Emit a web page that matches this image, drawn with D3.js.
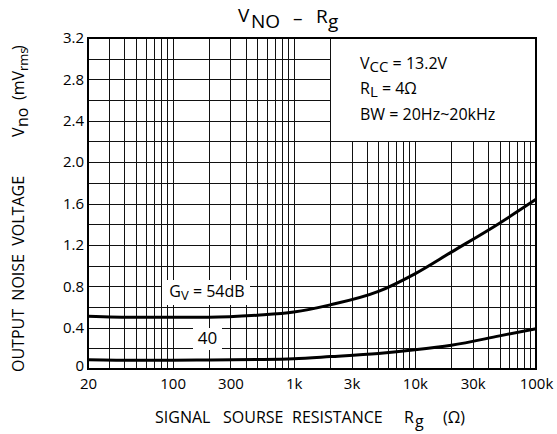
<!DOCTYPE html>
<html><head><meta charset="utf-8">
<script src="https://cdn.jsdelivr.net/npm/d3@7"></script>
<style>
body{margin:0;background:#fff}
svg{display:block}
text{font-family:"Open Sans","Noto Sans",sans-serif;fill:#000;white-space:pre}
</style>
</head><body>
<svg id="c" width="557" height="434"></svg>
<script>
// ---- data ----
const resistance = [20, 50, 100, 200, 500, 1000, 2000, 5000, 10000, 20000, 50000, 100000];
const gv54 = [0.51, 0.50, 0.50, 0.50, 0.52, 0.55, 0.62, 0.75, 0.92, 1.13, 1.41, 1.64];
const gv40 = [0.09, 0.085, 0.085, 0.088, 0.092, 0.10, 0.12, 0.15, 0.185, 0.23, 0.32, 0.39];
const xTickValues = [20, 100, 300, 1000, 3000, 10000, 30000, 100000];
const xTickLabels = ["20", "100", "300", "1k", "3k", "10k", "30k", "100k"];
const yTickValues = [0, 0.4, 0.8, 1.2, 1.6, 2.0, 2.4, 2.8, 3.2];
const yTickLabels = ["0", "0.4", "0.8", "1.2", "1.6", "2.0", "2.4", "2.8", "3.2"];
const yGridValues = d3.range(0, 17).map(i => +(i * 0.2).toFixed(1));
const boxCorner = {r: 2000, v: 2.2};

// ---- layout ----
const svg = d3.select("#c");
const L = 88, R = 536, T = 38, B = 369;
const x = d3.scaleLog().domain([20, 100000]).range([L, R]);
const y = d3.scaleLinear().domain([0, 3.2]).range([B, T]);

// vertical grid values
const xGridValues = [];
for (let d = 10; d <= 100000; d *= 10) {
  for (let m = 1; m <= 9; m++) {
    const v = d * m;
    if (v >= 20 && v <= 100000) xGridValues.push(v);
  }
}

const grid = svg.append("g").attr("stroke", "#111").attr("stroke-width", 1).attr("shape-rendering", "crispEdges");
grid.selectAll("line.v").data(xGridValues).join("line")
  .attr("x1", d => Math.round(x(d)) + 0.5).attr("x2", d => Math.round(x(d)) + 0.5)
  .attr("y1", d => d > boxCorner.r ? y(boxCorner.v) : T)
  .attr("y2", B);
grid.selectAll("line.h").data(yGridValues).join("line")
  .attr("y1", d => Math.round(y(d)) + 0.5).attr("y2", d => Math.round(y(d)) + 0.5)
  .attr("x1", L)
  .attr("x2", d => d > boxCorner.v ? x(boxCorner.r) : R);

// frame
svg.append("rect").attr("x", L).attr("y", T).attr("width", R - L).attr("height", B - T)
  .attr("fill", "none").attr("stroke", "#000").attr("stroke-width", 2);

// label backgrounds
svg.append("rect").attr("x", 162).attr("y", 280).attr("width", 88).attr("height", 25).attr("fill", "#fff");
svg.append("rect").attr("x", 193).attr("y", 328).attr("width", 29).attr("height", 22).attr("fill", "#fff");

// curves
const line = d3.line().x((d, i) => x(resistance[i])).y(d => y(d)).curve(d3.curveMonotoneX);
[gv54, gv40].forEach(s => {
  svg.append("path").attr("d", line(s)).attr("fill", "none").attr("stroke", "#000").attr("stroke-width", 3);
});

// y tick labels
const yAxis = d3.axisLeft(y).tickValues(yTickValues).tickSize(0).tickPadding(4)
  .tickFormat((d, i) => yTickLabels[i]);
const gy = svg.append("g").attr("transform", `translate(${L},0)`).call(yAxis);
gy.select(".domain").remove();
gy.selectAll("text").attr("font-size", 15).attr("font-family", "'Open Sans',sans-serif").attr("fill", "#000");
gy.selectAll("text").filter(d => d === 0).attr("y", -3);

// x tick labels
const xAxis = d3.axisBottom(x).tickValues(xTickValues).tickSize(0).tickPadding(9)
  .tickFormat((d, i) => xTickLabels[i]);
const gx = svg.append("g").attr("transform", `translate(0,${B})`).call(xAxis);
gx.select(".domain").remove();
gx.selectAll("text").attr("font-size", 15).attr("font-family", "'Open Sans',sans-serif").attr("fill", "#000");

// curve labels
const t1 = svg.append("text").attr("x", 207).attr("y", 297).attr("text-anchor", "middle").attr("font-size", 16);
t1.append("tspan").text("G");
t1.append("tspan").attr("font-size", 13).attr("dy", 3).text("V");
t1.append("tspan").attr("dy", -3).text(" = 54dB");
svg.append("text").attr("x", 207.5).attr("y", 344).attr("text-anchor", "middle").attr("font-size", 17).text("40");

// title
const title = svg.append("g").attr("font-size", 19);
title.append("text").attr("x", 238).attr("y", 22).text("V");
title.append("text").attr("x", 251).attr("y", 28).text("NO");
title.append("text").attr("x", 293).attr("y", 25).text("–");
title.append("text").attr("x", 316).attr("y", 23).text("R");
title.append("text").attr("x", 328).attr("y", 28).text("g");

// condition box text
const c1 = svg.append("text").attr("x", 360).attr("y", 69).attr("font-size", 16);
c1.append("tspan").text("V");
c1.append("tspan").attr("dy", 3).attr("font-size", 15).text("CC");
c1.append("tspan").attr("dy", -3).text(" = 13.2V");
const c2 = svg.append("text").attr("x", 360).attr("y", 94).attr("font-size", 16);
c2.append("tspan").text("R");
c2.append("tspan").attr("dy", 3).attr("font-size", 15).text("L");
c2.append("tspan").attr("dy", -3).text(" = 4Ω");
svg.append("text").attr("x", 360).attr("y", 119.5).attr("font-size", 16).text("BW = 20Hz~20kHz");

// x axis title
const xt = svg.append("g").attr("font-size", 16);
xt.append("text").attr("x", 155).attr("y", 423).text("SIGNAL");
xt.append("text").attr("x", 223).attr("y", 423).text("SOURSE");
xt.append("text").attr("x", 292).attr("y", 423).text("RESISTANCE");
xt.append("text").attr("x", 404).attr("y", 423).text("R");
xt.append("text").attr("x", 415).attr("y", 427).text("g");
xt.append("text").attr("x", 443).attr("y", 423).text("(Ω)");

// y axis title
const yt = svg.append("g").attr("transform", "translate(24,372) rotate(-90)").attr("font-size", 16);
yt.append("text").attr("x", 0).attr("y", 0).text("OUTPUT  NOISE  VOLTAGE");
yt.append("text").attr("x", 235).attr("y", 0).text("V");
yt.append("text").attr("x", 245).attr("y", 4).text("no");
yt.append("text").attr("x", 272).attr("y", 0).text("(mV");
yt.append("text").attr("x", 301).attr("y", 4).attr("font-size", 13).text("rms");
yt.append("text").attr("x", 322).attr("y", 0).text(")");
</script>
</body></html>
